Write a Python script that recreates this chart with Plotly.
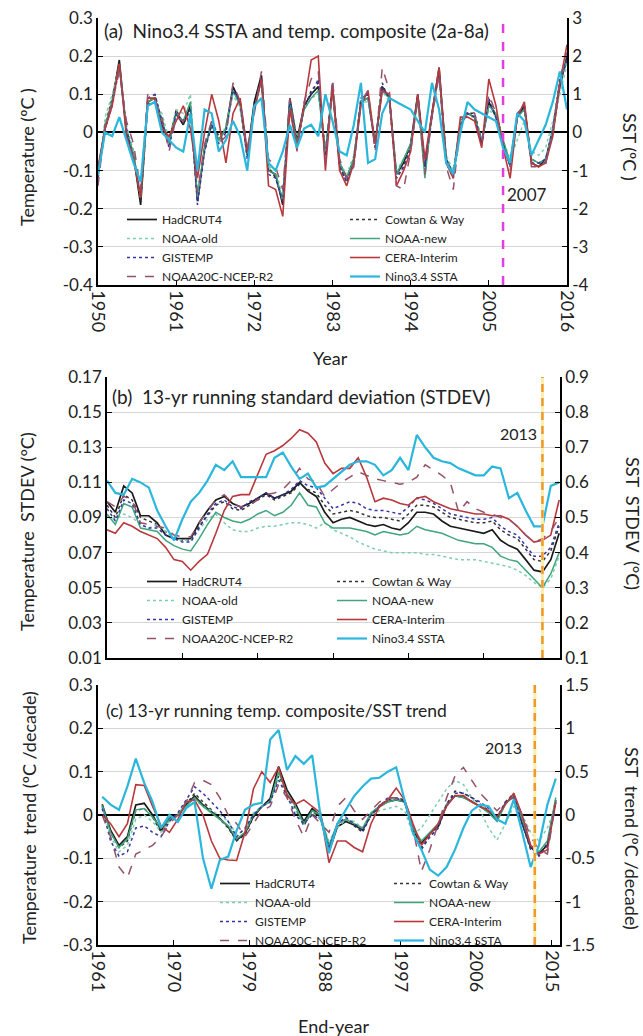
import plotly.graph_objects as go

# ------------------------------------------------------------------ data
names = ["HadCRUT4", "Cowtan & Way", "NOAA-old", "NOAA-new", "GISTEMP",
         "CERA-Interim", "NOAA20C-NCEP-R2", "Nino3.4 SSTA"]

# ---- panel (a): 2a-8a band-passed composite, years 1950-2016
years_a = list(range(1950, 2017))
a_hadcrut4 = [-0.10, 0.01, 0.08, 0.19, 0.00, -0.06, -0.19, 0.08, 0.09, 0.02,
              -0.02, 0.05, 0.02, 0.07, -0.18, -0.04, 0.02, -0.02, 0.01, 0.12,
              0.08, -0.06, 0.08, 0.15, -0.10, -0.11, -0.19, 0.09, -0.02, 0.07,
              0.10, 0.12, -0.06, 0.12, -0.08, -0.12, -0.07, 0.08, 0.09, -0.03,
              0.12, 0.09, -0.11, -0.08, -0.03, 0.10, -0.09, 0.05, 0.17, -0.07,
              -0.11, 0.02, 0.05, 0.04, -0.03, 0.08, 0.04, -0.03, -0.08, 0.04,
              0.07, -0.08, -0.09, -0.07, 0.00, 0.12, 0.20]
a_cowtan = [-0.11, 0.02, 0.09, 0.18, 0.01, -0.05, -0.18, 0.07, 0.10, 0.03,
            -0.03, 0.06, 0.02, 0.06, -0.17, -0.05, 0.03, -0.01, 0.01, 0.11,
            0.08, -0.05, 0.06, 0.14, -0.09, -0.12, -0.18, 0.08, -0.03, 0.06,
            0.11, 0.13, -0.05, 0.11, -0.09, -0.13, -0.08, 0.09, 0.10, -0.04,
            0.13, 0.08, -0.12, -0.09, -0.04, 0.09, -0.10, 0.04, 0.16, -0.08,
            -0.12, 0.03, 0.05, 0.05, -0.02, 0.07, 0.05, -0.02, -0.09, 0.05,
            0.06, -0.07, -0.08, -0.08, 0.01, 0.14, 0.19]
a_noaa_old = [-0.13, 0.04, 0.10, 0.17, 0.02, -0.05, -0.17, 0.07, 0.08, 0.05,
              -0.02, 0.06, 0.05, 0.10, -0.16, -0.04, 0.03, -0.03, 0.02, 0.10,
              0.06, -0.05, 0.06, 0.13, -0.09, -0.10, -0.17, 0.08, -0.02, 0.06,
              0.09, 0.10, -0.05, 0.10, -0.08, -0.11, -0.06, 0.08, 0.08, -0.02,
              0.11, 0.08, -0.10, -0.07, -0.03, 0.08, -0.08, 0.05, 0.15, -0.06,
              -0.10, 0.03, 0.04, 0.04, -0.02, 0.06, 0.04, -0.02, -0.07, -0.02,
              0.03, -0.05, -0.06, -0.04, 0.03, 0.10, 0.18]
a_noaa_new = [-0.11, 0.02, 0.08, 0.18, 0.01, -0.06, -0.17, 0.08, 0.09, 0.03,
              -0.03, 0.05, 0.03, 0.08, -0.17, -0.04, 0.02, -0.02, 0.01, 0.11,
              0.07, -0.06, 0.06, 0.14, -0.10, -0.11, -0.18, 0.08, -0.03, 0.06,
              0.09, 0.11, -0.05, 0.11, -0.08, -0.12, -0.07, 0.08, 0.09, -0.03,
              0.11, 0.09, -0.11, -0.07, -0.03, 0.09, -0.12, 0.05, 0.16, -0.07,
              -0.11, 0.02, 0.05, 0.04, -0.02, 0.07, 0.05, -0.02, -0.08, 0.04,
              0.06, -0.07, -0.08, -0.07, 0.01, 0.13, 0.19]
a_gistemp = [-0.12, 0.01, 0.07, 0.17, 0.01, -0.07, -0.16, 0.09, 0.10, 0.03,
             -0.04, 0.05, 0.03, 0.06, -0.19, -0.05, 0.02, -0.03, 0.00, 0.11,
             0.08, -0.07, 0.06, 0.14, -0.11, -0.12, -0.18, 0.08, -0.04, 0.07,
             0.10, 0.14, -0.07, 0.13, -0.09, -0.13, -0.08, 0.09, 0.10, -0.04,
             0.12, 0.09, -0.12, -0.09, -0.04, 0.10, -0.09, 0.05, 0.16, -0.07,
             -0.11, 0.02, 0.05, 0.04, -0.03, 0.09, 0.04, -0.03, -0.09, 0.04,
             0.07, -0.08, -0.08, -0.07, 0.01, 0.13, 0.19]
a_cera = [-0.09, 0.01, 0.07, 0.18, -0.01, -0.07, -0.17, 0.09, 0.09, 0.01,
          -0.01, 0.03, 0.07, 0.01, -0.12, 0.00, 0.10, 0.03, -0.08, 0.05,
          0.09, -0.05, 0.06, 0.14, -0.14, -0.15, -0.22, 0.06, -0.04, 0.07,
          0.19, 0.20, -0.10, 0.12, -0.10, -0.14, -0.08, 0.07, 0.11, -0.03,
          0.11, 0.10, -0.14, -0.10, -0.05, 0.10, -0.07, 0.05, 0.17, -0.08,
          -0.12, 0.04, 0.04, 0.03, -0.04, 0.14, 0.07, -0.04, -0.12, 0.04,
          0.08, -0.08, -0.09, -0.08, -0.01, 0.13, 0.23]
a_noaa20c = [-0.14, 0.02, 0.08, 0.16, 0.03, -0.03, -0.15, 0.10, 0.08, 0.04,
             -0.05, 0.04, 0.03, 0.05, -0.16, -0.03, 0.03, -0.03, -0.01, 0.13,
             0.08, -0.04, 0.05, 0.16, -0.07, -0.09, -0.15, 0.09, -0.05, 0.08,
             0.14, 0.16, -0.08, 0.14, -0.07, -0.12, -0.09, 0.08, 0.11, -0.05,
             0.17, 0.11, -0.14, -0.15, -0.05, 0.09, -0.11, 0.04, 0.15, -0.09,
             -0.15, 0.02, 0.06, 0.05, -0.03, 0.10, 0.05, -0.02, -0.10, 0.05,
             0.07, -0.09, -0.09, -0.08, 0.00, 0.14, 0.21]
a_nino34 = [-1.1, 0.0, -0.1, 0.4, -0.2, -0.8, -1.3, 0.7, 0.8, 0.0,
            -0.2, -0.4, -0.5, 0.5, -1.0, 0.6, 0.5, -0.5, -0.2, 0.3,
            -0.1, -1.0, 0.7, 0.9, -0.8, -1.0, -0.5, 0.2, -0.4, 0.1,
            0.2, -0.1, 1.0, 0.3, -0.5, -0.6, 0.2, 1.3, -0.8, -0.7,
            0.5, 0.9, 0.8, 0.7, 0.6, 0.3, 0.0, 1.3, 0.6, -0.8,
            -1.1, 0.0, 0.8, 0.6, 0.5, 0.4, 0.3, -0.4, -0.8, 0.5,
            0.3, -0.6, -0.2, 0.2, 0.8, 1.6, 0.6]

# ---- panel (b): 13-yr running STDEV, end-years 1961-2015
years_b = list(range(1961, 2016))
b_hadcrut4 = [0.099, 0.093, 0.108, 0.104, 0.091, 0.091, 0.087, 0.080, 0.078, 0.078,
              0.078, 0.087, 0.094, 0.100, 0.102, 0.098, 0.096, 0.098, 0.101, 0.104,
              0.101, 0.103, 0.105, 0.110, 0.105, 0.102, 0.093, 0.087, 0.089, 0.090,
              0.088, 0.086, 0.085, 0.086, 0.084, 0.083, 0.087, 0.093, 0.093, 0.092,
              0.088, 0.085, 0.084, 0.083, 0.082, 0.081, 0.083, 0.077, 0.074, 0.072,
              0.066, 0.060, 0.059, 0.066, 0.081]
b_cowtan = [0.097, 0.090, 0.103, 0.100, 0.090, 0.088, 0.086, 0.082, 0.079, 0.077,
            0.077, 0.085, 0.091, 0.097, 0.099, 0.095, 0.094, 0.097, 0.100, 0.103,
            0.100, 0.102, 0.104, 0.109, 0.106, 0.104, 0.097, 0.092, 0.093, 0.094,
            0.093, 0.091, 0.090, 0.090, 0.089, 0.088, 0.092, 0.097, 0.097, 0.096,
            0.093, 0.090, 0.089, 0.088, 0.087, 0.087, 0.088, 0.083, 0.080, 0.078,
            0.072, 0.066, 0.065, 0.071, 0.085]
b_noaa_old = [0.091, 0.089, 0.092, 0.090, 0.086, 0.084, 0.086, 0.082, 0.078, 0.077,
              0.077, 0.083, 0.089, 0.092, 0.087, 0.083, 0.082, 0.082, 0.084, 0.085,
              0.085, 0.086, 0.087, 0.087, 0.086, 0.084, 0.087, 0.083, 0.081, 0.079,
              0.076, 0.074, 0.072, 0.071, 0.070, 0.070, 0.070, 0.070, 0.069, 0.069,
              0.068, 0.067, 0.066, 0.066, 0.066, 0.065, 0.064, 0.063, 0.062, 0.060,
              0.057, 0.053, 0.050, 0.055, 0.068]
b_noaa_new = [0.092, 0.086, 0.098, 0.096, 0.084, 0.083, 0.082, 0.077, 0.074, 0.072,
              0.071, 0.078, 0.086, 0.093, 0.090, 0.088, 0.087, 0.089, 0.092, 0.094,
              0.091, 0.093, 0.097, 0.104, 0.097, 0.096, 0.087, 0.084, 0.084, 0.084,
              0.083, 0.082, 0.080, 0.082, 0.081, 0.080, 0.081, 0.085, 0.083, 0.082,
              0.081, 0.079, 0.077, 0.076, 0.075, 0.075, 0.073, 0.068, 0.066, 0.065,
              0.060, 0.055, 0.050, 0.058, 0.070]
b_gistemp = [0.095, 0.088, 0.100, 0.098, 0.086, 0.084, 0.084, 0.080, 0.078, 0.076,
             0.076, 0.084, 0.092, 0.098, 0.100, 0.096, 0.095, 0.099, 0.101, 0.104,
             0.101, 0.103, 0.106, 0.111, 0.108, 0.107, 0.101, 0.095, 0.097, 0.099,
             0.098, 0.095, 0.094, 0.094, 0.093, 0.092, 0.096, 0.101, 0.100, 0.098,
             0.095, 0.092, 0.091, 0.090, 0.089, 0.089, 0.090, 0.085, 0.082, 0.080,
             0.074, 0.068, 0.068, 0.073, 0.087]
b_cera = [0.083, 0.081, 0.087, 0.085, 0.082, 0.080, 0.078, 0.073, 0.066, 0.065,
          0.060, 0.065, 0.069, 0.081, 0.094, 0.102, 0.103, 0.103, 0.115, 0.126,
          0.128, 0.131, 0.135, 0.140, 0.138, 0.133, 0.121, 0.115, 0.118, 0.118,
          0.124, 0.113, 0.099, 0.101, 0.100, 0.098, 0.097, 0.101, 0.102, 0.099,
          0.097, 0.095, 0.094, 0.093, 0.092, 0.092, 0.091, 0.091, 0.089, 0.085,
          0.080, 0.076, 0.077, 0.080, 0.100]
b_noaa20c = [0.099, 0.096, 0.102, 0.100, 0.087, 0.086, 0.085, 0.084, 0.080, 0.079,
             0.079, 0.087, 0.094, 0.100, 0.103, 0.098, 0.096, 0.097, 0.100, 0.103,
             0.104, 0.106, 0.111, 0.118, 0.112, 0.110, 0.102, 0.106, 0.110, 0.113,
             0.116, 0.114, 0.112, 0.111, 0.110, 0.109, 0.110, 0.113, 0.120, 0.117,
             0.114, 0.110, 0.093, 0.099, 0.095, 0.093, 0.092, 0.090, 0.089, 0.085,
             0.080, 0.076, 0.078, 0.082, 0.090]
b_nino34 = [0.605, 0.570, 0.565, 0.610, 0.600, 0.585, 0.520, 0.475, 0.435, 0.495,
            0.545, 0.570, 0.605, 0.650, 0.635, 0.660, 0.615, 0.615, 0.615, 0.615,
            0.670, 0.685, 0.645, 0.610, 0.625, 0.585, 0.590, 0.610, 0.630, 0.650,
            0.660, 0.660, 0.650, 0.620, 0.635, 0.670, 0.635, 0.735, 0.700, 0.670,
            0.660, 0.655, 0.640, 0.630, 0.620, 0.620, 0.645, 0.640, 0.555, 0.570,
            0.520, 0.475, 0.475, 0.590, 0.600]

# ---- panel (c): 13-yr running trend, end-years 1962-2016
years_c = list(range(1962, 2017))
c_hadcrut4 = [0.025, -0.035, -0.070, -0.050, 0.023, 0.027, 0.000, -0.035, -0.008, 0.000,
              0.023, 0.044, 0.023, 0.008, -0.008, -0.027, -0.058, -0.042, -0.004, 0.019,
              0.038, 0.112, 0.058, 0.027, -0.015, 0.015, -0.002, -0.085, -0.027, -0.015,
              -0.023, -0.035, 0.000, 0.019, 0.031, 0.035, 0.031, -0.035, -0.065, -0.042,
              -0.027, 0.023, 0.044, 0.041, 0.031, 0.019, 0.008, -0.012, 0.027, 0.044,
              -0.020, -0.075, -0.088, -0.070, 0.035]
c_cowtan = [0.020, -0.040, -0.075, -0.060, 0.010, 0.015, -0.005, -0.040, -0.010, 0.000,
            0.025, 0.050, 0.030, 0.012, -0.010, -0.030, -0.060, -0.045, -0.005, 0.020,
            0.035, 0.090, 0.050, 0.015, -0.025, 0.010, -0.010, -0.075, -0.020, -0.010,
            -0.025, -0.040, 0.000, 0.022, 0.035, 0.040, 0.035, -0.030, -0.075, -0.050,
            -0.030, 0.025, 0.055, 0.050, 0.040, 0.025, 0.010, -0.010, 0.030, 0.050,
            -0.020, -0.075, -0.092, -0.065, 0.030]
c_noaa_old = [0.020, -0.050, -0.085, -0.070, -0.010, 0.000, -0.015, -0.040, -0.015, 0.000,
              0.030, 0.035, 0.020, 0.010, 0.000, -0.015, -0.045, -0.035, 0.005, 0.020,
              0.030, 0.085, 0.040, 0.010, -0.020, 0.005, -0.010, -0.060, -0.030, -0.010,
              -0.015, -0.030, 0.000, 0.010, 0.015, 0.020, 0.010, -0.045, -0.030, 0.000,
              0.030, 0.060, 0.080, 0.070, 0.040, 0.010, -0.030, -0.058, -0.020, 0.020,
              0.000, -0.040, -0.060, -0.030, 0.020]
c_noaa_new = [0.022, -0.040, -0.075, -0.055, 0.012, 0.015, -0.005, -0.030, -0.010, 0.000,
              0.020, 0.040, 0.020, 0.005, -0.010, -0.025, -0.055, -0.040, 0.000, 0.020,
              0.030, 0.100, 0.050, 0.020, -0.020, 0.010, 0.000, -0.070, -0.020, -0.010,
              -0.020, -0.030, 0.005, 0.020, 0.030, 0.035, 0.030, -0.030, -0.060, -0.040,
              -0.020, 0.025, 0.045, 0.040, 0.030, 0.020, 0.005, -0.015, 0.025, 0.045,
              -0.010, -0.070, -0.085, -0.060, 0.040]
c_gistemp = [0.015, -0.060, -0.095, -0.085, -0.030, -0.025, -0.040, -0.050, -0.015, 0.005,
             0.035, 0.065, 0.050, 0.030, 0.010, -0.015, -0.050, -0.030, 0.000, 0.020,
             0.030, 0.080, 0.045, 0.000, -0.020, 0.000, -0.010, -0.075, -0.020, -0.005,
             -0.020, -0.035, 0.000, 0.020, 0.040, 0.040, 0.030, -0.040, -0.080, -0.050,
             -0.030, 0.025, 0.050, 0.050, 0.040, 0.030, 0.015, -0.005, 0.030, 0.045,
             -0.020, -0.080, -0.095, -0.070, 0.030]
c_cera = [0.000, -0.020, -0.050, -0.020, 0.070, 0.068, 0.020, -0.025, -0.040, -0.010,
          0.030, 0.035, 0.000, -0.060, -0.100, -0.104, -0.105, -0.040, 0.060, 0.100,
          0.075, 0.110, 0.045, 0.025, 0.035, 0.020, 0.005, -0.110, -0.060, -0.060,
          -0.075, -0.085, -0.020, 0.020, 0.035, 0.062, 0.035, -0.020, -0.070, -0.045,
          -0.020, 0.020, 0.045, 0.045, 0.030, 0.020, 0.010, -0.005, 0.025, 0.050,
          0.000, -0.070, -0.090, -0.080, 0.030]
c_noaa20c = [0.000, -0.050, -0.120, -0.145, -0.090, -0.080, -0.070, -0.050, -0.020, 0.000,
             0.030, 0.075, 0.080, 0.070, 0.040, 0.000, -0.020, -0.050, -0.020, 0.010,
             0.020, 0.070, 0.040, -0.010, -0.050, 0.000, -0.020, -0.040, 0.020, 0.040,
             0.010, -0.010, 0.010, 0.030, 0.040, 0.040, 0.030, -0.030, -0.130, -0.080,
             -0.020, 0.040, 0.090, 0.110, 0.080, 0.050, 0.030, 0.010, 0.030, 0.040,
             0.000, -0.050, -0.080, -0.090, 0.030]
c_nino34 = [0.21, 0.12, 0.06, 0.33, 0.65, 0.37, 0.15, -0.15, 0.00, -0.08,
            0.08, 0.15, -0.50, -0.85, -0.52, -0.48, -0.18, 0.06, 0.12, 0.14,
            0.87, 0.98, 0.52, 0.68, 0.59, 0.69, -0.02, -0.44, -0.10, 0.06,
            0.22, 0.33, 0.42, 0.43, 0.50, 0.55, 0.17, -0.21, -0.40, -0.63,
            -0.70, -0.60, -0.40, -0.15, 0.05, 0.12, 0.10, -0.05, -0.10, 0.18,
            -0.20, -0.60, -0.35, 0.12, 0.42]

# ---- axis ticks and reference years
xticks_a = [1950, 1961, 1972, 1983, 1994, 2005, 2016]
xticks_bc = [1961, 1970, 1979, 1988, 1997, 2006, 2015]
ya_vals = [-0.4, -0.3, -0.2, -0.1, 0, 0.1, 0.2, 0.3]
ya_text = ["-0.4", "-0.3", "-0.2", "-0.1", "0", "0.1", "0.2", "0.3"]
ya2_vals = [-4, -3, -2, -1, 0, 1, 2, 3]
ya2_text = ["-4", "-3", "-2", "-1", "0", "1", "2", "3"]
yb_vals = [0.01, 0.03, 0.05, 0.07, 0.09, 0.11, 0.13, 0.15, 0.17]
yb_text = ["0.01", "0.03", "0.05", "0.07", "0.09", "0.11", "0.13", "0.15", "0.17"]
yb2_vals = [0.1, 0.2, 0.3, 0.4, 0.5, 0.6, 0.7, 0.8, 0.9]
yb2_text = ["0.1", "0.2", "0.3", "0.4", "0.5", "0.6", "0.7", "0.8", "0.9"]
yc_vals = [-0.3, -0.2, -0.1, 0, 0.1, 0.2, 0.3]
yc_text = ["-0.3", "-0.2", "-0.1", "0", "0.1", "0.2", "0.3"]
yc2_vals = [-1.5, -1, -0.5, 0, 0.5, 1, 1.5]
yc2_text = ["-1.5", "-1", "-0.5", "0", "0.5", "1", "1.5"]
mark_year_a = 2007
mark_year_bc = 2013

# ------------------------------------------------------------------ styles
FONT = "Lato, 'Open Sans', Arial, sans-serif"
W, H = 643, 1036
ML, MR, MT, MB = 98, 76, 18, 91
PW, PH = W - ML - MR, H - MT - MB


def px(x):
    return (x - ML) / PW


def py(y):
    return (H - MB - y) / PH


styles = {
    "HadCRUT4": dict(color="#1a1a1a", width=1.7, dash="solid"),
    "Cowtan & Way": dict(color="#333333", width=1.5, dash="dot"),
    "NOAA-old": dict(color="#7ccfae", width=1.5, dash="dot"),
    "NOAA-new": dict(color="#3fa57c", width=1.5, dash="solid"),
    "GISTEMP": dict(color="#3535a8", width=1.5, dash="dot"),
    "CERA-Interim": dict(color="#b8383c", width=1.6, dash="solid"),
    "NOAA20C-NCEP-R2": dict(color="#95506a", width=1.5, dash="dash"),
    "Nino3.4 SSTA": dict(color="#2bb6dc", width=2.2, dash="solid"),
}

fig = go.Figure()


def add_panel(xvals, series, xa, yl, yr, leg):
    for name, vals in zip(names, series):
        st = styles[name]
        fig.add_trace(go.Scatter(
            x=xvals, y=vals, mode="lines", name=name,
            line=dict(color=st["color"], width=st["width"], dash=st["dash"]),
            xaxis=xa, yaxis=(yr if name == "Nino3.4 SSTA" else yl),
            legend=leg, hoverinfo="skip"))


add_panel(years_a, [a_hadcrut4, a_cowtan, a_noaa_old, a_noaa_new, a_gistemp,
                    a_cera, a_noaa20c, a_nino34], "x", "y", "y2", "legend")
add_panel(years_b, [b_hadcrut4, b_cowtan, b_noaa_old, b_noaa_new, b_gistemp,
                    b_cera, b_noaa20c, b_nino34], "x2", "y3", "y4", "legend2")
add_panel(years_c, [c_hadcrut4, c_cowtan, c_noaa_old, c_noaa_new, c_gistemp,
                    c_cera, c_noaa20c, c_nino34], "x3", "y5", "y6", "legend3")

tickfont = dict(family=FONT, size=17, color="#222222")
xtickfont = dict(family=FONT, size=18, color="#222222")
xcommon = dict(showgrid=False, zeroline=False, showline=True, linecolor="black",
               linewidth=1.5, ticks="inside", ticklen=5, tickcolor="black",
               tickfont=xtickfont, tickangle=90, fixedrange=True)
ycommon = dict(showgrid=True, gridcolor="#d6d6d6", gridwidth=1, showline=True,
               linecolor="black", linewidth=1.5, ticks="inside", ticklen=5,
               tickcolor="black", tickfont=tickfont, fixedrange=True)
yright = dict(showgrid=False, zeroline=False, side="right")

# domains
dom_a_y = [py(285), py(18)]
dom_b_y = [py(658), py(377)]
dom_c_y = [py(945), py(685)]

fig.update_layout(
    width=W, height=H,
    margin=dict(l=ML, r=MR, t=MT, b=MB, autoexpand=False),
    paper_bgcolor="white", plot_bgcolor="white",
    font=dict(family=FONT, color="#222222"),
    showlegend=True,
    xaxis=dict(xcommon, domain=[0, 1], anchor="y", range=[1950, 2016],
               tickvals=xticks_a, ticktext=[str(v) for v in xticks_a]),
    yaxis=dict(ycommon, domain=dom_a_y, anchor="x", range=[-0.4, 0.3],
               tickvals=ya_vals, ticktext=ya_text, zeroline=True,
               zerolinecolor="black", zerolinewidth=2),
    yaxis2=dict(ycommon, **yright, overlaying="y", anchor="x", range=[-4, 3],
                tickvals=ya2_vals, ticktext=ya2_text),
    xaxis2=dict(xcommon, domain=[px(107), px(560)], anchor="y3",
                range=[1961, 2015.1], tickvals=xticks_bc, showticklabels=False),
    yaxis3=dict(ycommon, domain=dom_b_y, anchor="x2", range=[0.01, 0.17],
                tickvals=yb_vals, ticktext=yb_text, zeroline=False),
    yaxis4=dict(ycommon, **yright, overlaying="y3", anchor="x2", range=[0.1, 0.9],
                tickvals=yb2_vals, ticktext=yb2_text),
    xaxis3=dict(xcommon, domain=[0, px(560)], anchor="y5", range=[1961.5, 2016.5],
                tickvals=[v + 0.5 for v in xticks_bc],
                ticktext=[str(v) for v in xticks_bc]),
    yaxis5=dict(ycommon, domain=dom_c_y, anchor="x3", range=[-0.3, 0.3],
                tickvals=yc_vals, ticktext=yc_text, zeroline=True,
                zerolinecolor="black", zerolinewidth=2),
    yaxis6=dict(ycommon, **yright, overlaying="y5", anchor="x3", range=[-1.5, 1.5],
                tickvals=yc2_vals, ticktext=yc2_text),
)

legend_common = dict(orientation="h", xanchor="left", yanchor="top",
                     bgcolor="rgba(0,0,0,0)", borderwidth=0, itemwidth=30,
                     font=dict(family=FONT, size=12, color="#222222"),
                     traceorder="normal", itemclick=False, itemdoubleclick=False)
fig.update_layout(
    legend=dict(legend_common, x=px(122), y=py(205), entrywidth=178),
    legend2=dict(legend_common, x=px(142), y=py(567), entrywidth=145),
    legend3=dict(legend_common, x=px(215), y=py(869), entrywidth=129),
)

# reference-year lines
fig.add_shape(type="line", xref="x", yref="y domain", x0=mark_year_a, x1=mark_year_a,
              y0=0, y1=1, line=dict(color="#e13fe0", width=2.5, dash="dash"))
for xa, ya, xv in [("x2", "y3", mark_year_bc), ("x3", "y5", mark_year_bc + 0.5)]:
    fig.add_shape(type="line", xref=xa, yref=ya + " domain", x0=xv, x1=xv, y0=0, y1=1,
                  line=dict(color="#fbeeb0", width=3))
    fig.add_shape(type="line", xref=xa, yref=ya + " domain", x0=xv, x1=xv, y0=0, y1=1,
                  line=dict(color="#ee9a2a", width=2.5, dash="8px,6px"))

ann = []
# year labels at the reference lines
ann.append(dict(xref="x", yref="y", x=mark_year_a, y=-0.163, text=str(mark_year_a),
                xanchor="left", yanchor="middle", xshift=2, showarrow=False,
                font=dict(size=17)))
ann.append(dict(xref="x2", yref="y3", x=mark_year_bc, y=0.138, text=str(mark_year_bc),
                xanchor="right", yanchor="middle", xshift=-3, showarrow=False,
                font=dict(size=16)))
ann.append(dict(xref="x3", yref="y5", x=mark_year_bc + 0.5, y=0.155, text=str(mark_year_bc),
                xanchor="right", yanchor="middle", xshift=-11, showarrow=False,
                font=dict(size=16)))

# panel titles
titles = [("(a)  Nino3.4 SSTA and temp. composite (2a-8a)", 102, 31, 19),
          ("(b)  13-yr running standard deviation (STDEV)", 110, 397, 19),
          ("(c) 13-yr running temp. composite/SST trend", 104, 710, 17.5)]
for t, x0, y0, fs in titles:
    ann.append(dict(xref="paper", yref="paper", x=px(x0), y=py(y0), text=t,
                    xanchor="left", yanchor="middle", showarrow=False,
                    font=dict(size=fs)))

# axis titles
axis_titles = [("Temperature (ºC )", 27, 157, -90),
               ("Temperature  STDEV (°C)", 27, 532, -90),
               ("Temperature  trend (ºC /decade)", 29, 818, -90),
               ("SST (ºC )", 630, 147, 90),
               ("SST  STDEV  (°C)", 633, 523, 90),
               ("SST  trend (ºC /decade)", 632, 838, 90),
               ("Year", 330, 358, 0),
               ("End-year", 333, 1026, 0)]
for t, x0, y0, ang in axis_titles:
    ann.append(dict(xref="paper", yref="paper", x=px(x0), y=py(y0), text=t,
                    xanchor="center", yanchor="middle", textangle=ang,
                    showarrow=False, font=dict(size=18)))

fig.update_layout(annotations=ann)

fig.write_html("out.html")
